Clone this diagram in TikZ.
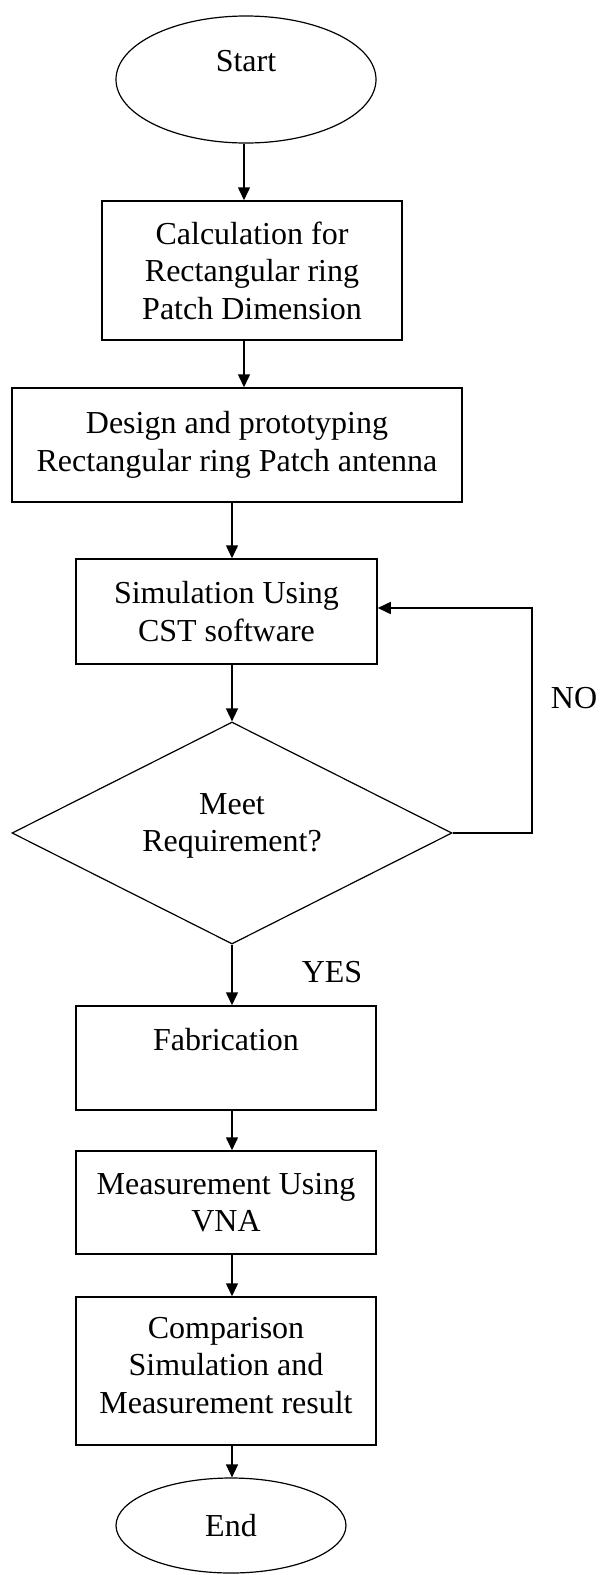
\documentclass[tikz,border=0pt]{standalone}
\usepackage{fontspec}
\setmainfont{Liberation Serif}
\usetikzlibrary{shapes.geometric,arrows.meta}
\begin{document}
\begin{tikzpicture}[x=1pt,y=-1pt,
  every node/.style={font=\fontsize{32}{37.5}\selectfont, align=center},
  box/.style={draw, line width=1.5pt, rectangle, inner sep=0pt},
  term/.style={draw, line width=1.2pt, ellipse, inner sep=0pt},
  decision/.style={draw, line width=1.2pt, diamond, aspect=2, inner sep=0pt},
  arr/.style={line width=1.5pt, -{Triangle[length=13pt,width=12pt]}},
  lbl/.style={inner sep=0pt}]
\useasboundingbox (0,0) rectangle (600,1575);

\node[term, minimum width=260pt, minimum height=127pt] (start) at (246,79.5) {Start\\~};
\node[box, minimum width=300pt, minimum height=139pt] (calc) at (252,270.5) {Calculation for\\Rectangular ring\\Patch Dimension};
\node[box, minimum width=450pt, minimum height=114pt] (design) at (237,445) {Design and prototyping\\Rectangular ring Patch antenna};
\node[box, minimum width=301pt, minimum height=105pt] (sim) at (226.5,611.5) {Simulation Using\\CST software};
\node[decision, minimum width=440pt, minimum height=222pt] (meet) at (232,833) {Meet\\Requirement?\\[-16.5pt]~};
\node[box, minimum width=300pt, minimum height=104pt] (fab) at (226,1058) {Fabrication\\~};
\node[box, minimum width=300pt, minimum height=103pt] (meas) at (226,1202.5) {Measurement Using\\VNA};
\node[box, minimum width=300pt, minimum height=148pt] (comp) at (226,1371) {Comparison\\Simulation and\\Measurement result\\[-25.5pt]~};
\node[term, minimum width=230pt, minimum height=95pt] (end) at (231,1525.5) {End};
\node[lbl] (yes) at (332,972) {YES};
\node[lbl] (no) at (574,698) {NO};

\draw[arr] ([xshift=-2pt]start.south) -- ([xshift=-2pt]start.south |- calc.north);
\draw[arr] ([xshift=-8pt]calc.south) -- ([xshift=-8pt]calc.south |- design.north);
\draw[arr] (design.south -| meet.north) -- (sim.north -| meet.north);
\draw[arr] (sim.south -| meet.north) -- (meet.north);
\draw[arr] (meet.south) -- (fab.north -| meet.south);
\draw[arr] (fab.south -| meet.south) -- (meas.north -| meet.south);
\draw[arr] (meas.south -| meet.south) -- (comp.north -| meet.south);
\draw[arr] (comp.south -| meet.south) -- (end.north -| meet.south);

\coordinate (loopB) at (532,833);
\coordinate (loopT) at (532,608);
\draw[arr] (meet.east) -- (loopB) -- (loopT) -- (sim.east |- loopT);
\end{tikzpicture}
\end{document}
